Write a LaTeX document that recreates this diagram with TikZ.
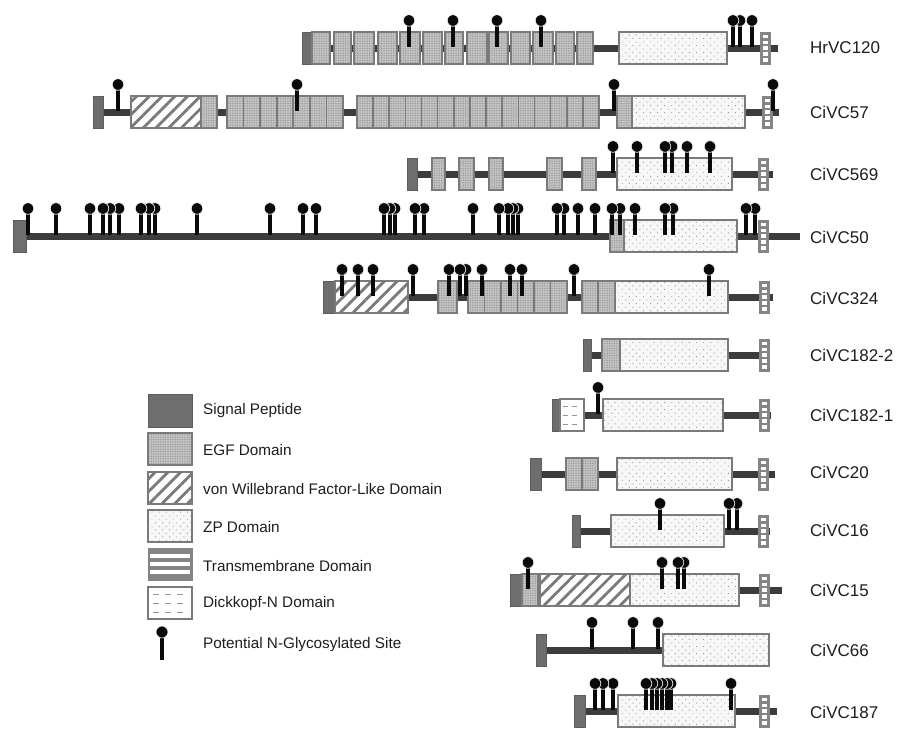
\documentclass[tikz,border=0pt]{standalone}
\usepackage{fontspec}
\setmainfont{Liberation Sans}
\usetikzlibrary{patterns.meta}
\definecolor{bbcol}{HTML}{3C3C3C}
\definecolor{domline}{HTML}{7A7A7A}
\definecolor{spcol}{HTML}{6E6E6E}
\definecolor{egfcol}{HTML}{C2C2C2}
\definecolor{egfdot}{HTML}{888888}
\definecolor{zpcol}{HTML}{F7F7F7}
\definecolor{zpdot}{HTML}{9C9C9C}
\definecolor{vwfline}{HTML}{7A7A7A}
\definecolor{tmcol}{HTML}{858585}
\definecolor{pincol}{HTML}{0A0A0A}
\definecolor{txtcol}{HTML}{1E1E1E}
\tikzset{
 bb/.style={draw=bbcol, line width=7pt},
 sp/.style={fill=spcol, draw=spcol!85!black, line width=1pt},
 egf/.style={fill=egfcol, postaction={pattern color=egfdot, pattern={Dots[distance=2.4pt, radius=0.6pt]}}, postaction={draw=domline, line width=1.6pt}},
 zp/.style={fill=zpcol, postaction={pattern color=zpdot, pattern={Dots[distance=5pt, radius=0.65pt, angle=45]}}, postaction={draw=domline, line width=1.6pt}},
 vwf/.style={fill=white, postaction={pattern color=vwfline, pattern={Lines[angle=45, distance=9pt, line width=2.8pt]}}, postaction={draw=domline, line width=1.6pt}},
 tm/.style={fill=tmcol, draw=tmcol, line width=1pt},
 dk/.style={fill=white, draw=domline, line width=1.6pt},
 stem/.style={draw=pincol, line width=3.4pt},
 ball/.style={fill=pincol, draw=white, line width=0.6pt},
 lab/.style={anchor=west, text=txtcol, font=\fontsize{17}{20}\selectfont, inner sep=0pt},
 leg/.style={anchor=west, text=txtcol, font=\fontsize{15.3}{18}\selectfont, inner sep=0pt},
}
\newcommand\dbox[4]{\path[#1] (#2,#4-16) rectangle (#3,#4+16);}
\newcommand\egfrun[4]{%
 \pgfmathsetmacro\egw{(#2-#1)/#3}%
 \foreach \i in {1,...,#3} {\path[egf] ({#1+(\i-1)*\egw},#4-16) rectangle ({#1+\i*\egw},#4+16);}}
\newcommand\tmx[2]{%
 \path[tm] (#1,#2-16) rectangle ++(10,32);
 \foreach \k in {0,...,4} {\fill[white] (#1+2.5,#2-16+2.6+\k*5.9) rectangle ++(5,3.4);}}
\newcommand\dkx[3]{%
 \path[dk] (#1,#3-16) rectangle (#2,#3+16);
 \foreach \k in {-9,0,9} {\draw[domline!80, line width=1pt] (#1+3,#3+\k) -- ++(5,0) ++(4,0) -- ++(5,0);}}
\newcommand\pinx[2]{\draw[stem] (#1,#2-27.5) -- (#1,#2-1); \path[ball] (#1,#2-27.5) circle[radius=5.8pt];}
\begin{document}
\begin{tikzpicture}[x=1pt,y=-1pt]
\useasboundingbox (0,0) rectangle (912,742);
\fill[white] (0,0) rectangle (912,742);
% Row 1 HrVC120
\draw[bb] (302,48) -- (778,48);
\dbox{sp}{302}{312}{48}
\foreach \a/\b in {312/330,334/351,354/374,378/397,400/420,423/442,445/463,467/487,489/508,511/530,533/553,556/574,577/593} {\dbox{egf}{\a}{\b}{48}}
\dbox{zp}{619}{727}{48}
\tmx{760}{48}
\foreach \x in {752,740,733,541,497,453,409} {\pinx{\x}{48}}
\node[lab] (l1) at (810,48) {HrVC120};
% Row 2 CiVC57
\draw[bb] (93,112) -- (779,112);
\dbox{sp}{93}{103}{112}
\dbox{vwf}{131}{201}{112}
\dbox{egf}{201}{217}{112}
\egfrun{227}{343}{7}{112}
\egfrun{357}{599}{15}{112}
\dbox{egf}{617}{632}{112}
\dbox{zp}{632}{745}{112}
\tmx{762}{112}
\foreach \x in {773,614,297,118} {\pinx{\x}{112}}
\node[lab] (l2) at (810,112) {CiVC57};
% Row 3 CiVC569
\draw[bb] (407,174) -- (773,174);
\dbox{sp}{407}{417}{174}
\foreach \a/\b in {432/445,459/474,489/503,547/562,582/596} {\dbox{egf}{\a}{\b}{174}}
\dbox{zp}{617}{732}{174}
\tmx{758}{174}
\foreach \x in {710,687,672,665,637,613} {\pinx{\x}{174}}
\node[lab] (l3) at (810,174) {CiVC569};
% Row 4 CiVC50
\draw[bb] (13,236) -- (800,236);
\dbox{sp}{13}{26}{236}
\dbox{egf}{610}{624}{236}
\dbox{zp}{624}{737}{236}
\tmx{758}{236}
\foreach \x in {755,746,673,665,635,620,612,595,578,564,557,518,513,508,499,473,424,415,395,390,384,316,303,270,197,155,149,141,119,110,103,90,56,28} {\pinx{\x}{236}}
\node[lab] (l4) at (810,237) {CiVC50};
% Row 5 CiVC324
\draw[bb] (323,297) -- (773,297);
\dbox{sp}{323}{335}{297}
\dbox{vwf}{335}{408}{297}
\dbox{egf}{438}{457}{297}
\egfrun{468}{567}{6}{297}
\dbox{egf}{582}{598}{297}
\dbox{egf}{598}{615}{297}
\dbox{zp}{615}{728}{297}
\tmx{759}{297}
\foreach \x in {709,574,522,510,482,466,460,449,413,373,358,342} {\pinx{\x}{297}}
\node[lab] (l5) at (810,298) {CiVC324};
% Row 6 CiVC182-2
\draw[bb] (583,355) -- (762,355);
\dbox{sp}{583}{591}{355}
\dbox{egf}{602}{620}{355}
\dbox{zp}{620}{728}{355}
\tmx{759}{355}
\node[lab] (l6) at (810,355) {CiVC182-2};
% Row 7 CiVC182-1
\draw[bb] (552,415) -- (771,415);
\dbox{sp}{552}{560}{415}
\dkx{560}{584}{415}
\dbox{zp}{603}{723}{415}
\tmx{759}{415}
\pinx{598}{415}
\node[lab] (l7) at (810,415) {CiVC182-1};
% Row 8 CiVC20
\draw[bb] (530,474) -- (775,474);
\dbox{sp}{530}{541}{474}
\dbox{egf}{566}{582}{474}
\dbox{egf}{582}{598}{474}
\dbox{zp}{617}{732}{474}
\tmx{758}{474}
\node[lab] (l8) at (810,472) {CiVC20};
% Row 9 CiVC16
\draw[bb] (572,531) -- (770,531);
\dbox{sp}{572}{580}{531}
\dbox{zp}{611}{724}{531}
\tmx{758}{531}
\foreach \x in {737,729,660} {\pinx{\x}{531}}
\node[lab] (l9) at (810,530) {CiVC16};
% Row 10 CiVC15
\draw[bb] (510,590) -- (782,590);
\dbox{sp}{510}{522}{590}
\dbox{egf}{522}{538}{590}
\dbox{vwf}{540}{630}{590}
\dbox{zp}{630}{739}{590}
\tmx{759}{590}
\foreach \x in {684,678,662,528} {\pinx{\x}{590}}
\node[lab] (l10) at (810,590) {CiVC15};
% Row 11 CiVC66
\draw[bb] (536,650) -- (663,650);
\dbox{sp}{536}{546}{650}
\dbox{zp}{663}{769}{650}
\foreach \x in {658,633,592} {\pinx{\x}{650}}
\node[lab] (l11) at (810,650) {CiVC66};
% Row 12 CiVC187
\draw[bb] (574,711) -- (777,711);
\dbox{sp}{574}{585}{711}
\dbox{zp}{618}{735}{711}
\tmx{759}{711}
\foreach \x in {731,671,667,662,657,652,646,613,603,595} {\pinx{\x}{711}}
\node[lab] (l12) at (810,712) {CiVC187};
% Legend
\path[sp] (148,394) rectangle (192,427);
\path[egf] (148,433) rectangle (192,465);
\path[vwf] (148,472) rectangle (192,504);
\path[zp] (148,510) rectangle (192,542);
\path[tm] (148,548) rectangle (192,580);
\foreach \k in {0,1,2} {\fill[white] (150,554+\k*8) rectangle (190,558+\k*8);}
\path[dk] (148,587) rectangle (192,619);
\foreach \k in {0,1,2} {\foreach \d in {0,12,24} {\draw[domline!80, line width=1pt] (153+\d,594+\k*9) -- ++(6,0);}}
\draw[stem, line width=4pt] (162,632) -- (162,660);
\path[ball] (162,632) circle[radius=6pt];
\node[leg] (t1) at (203,411) {Signal Peptide};
\node[leg] (t2) at (203,450) {EGF Domain};
\node[leg] (t3) at (203,489) {von Willebrand Factor-Like Domain};
\node[leg] (t4) at (203,527) {ZP Domain};
\node[leg] (t5) at (203,566) {Transmembrane Domain};
\node[leg] (t6) at (203,604) {Dickkopf-N Domain};
\node[leg] (t7) at (203,645) {Potential N-Glycosylated Site};
\end{tikzpicture}
\end{document}
